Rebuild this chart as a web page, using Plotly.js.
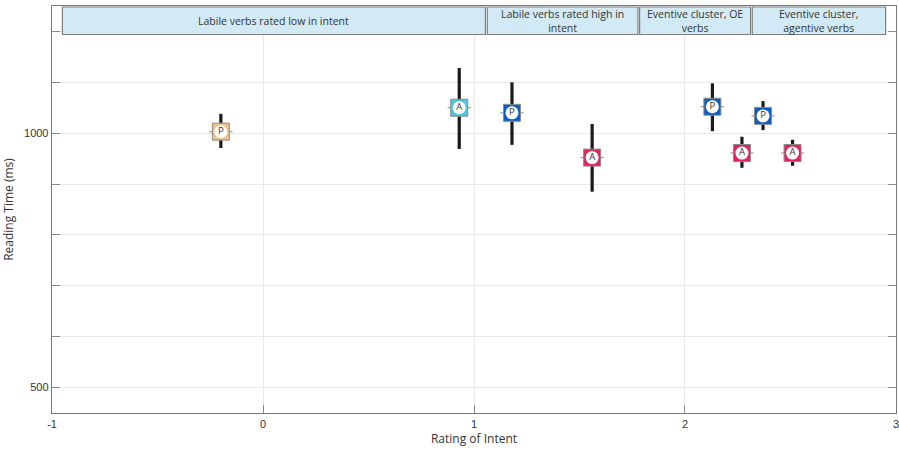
<!DOCTYPE html>
<html>
<head>
<meta charset="utf-8">
<script src="https://cdn.plot.ly/plotly-3.0.1.min.js"></script>
<style>html,body{margin:0;padding:0;background:#fff;}#chart{width:899px;height:450px;}</style>
</head>
<body>
<div id="chart"></div>
<script>
// Data
const conditions = ["Low intent P", "Low intent A", "High intent P", "High intent A", "OE P", "OE A", "Agentive P", "Agentive A"];
const letters = ["P", "A", "P", "A", "P", "A", "P", "A"];
const intentRating = [-0.20, 0.93, 1.18, 1.56, 2.13, 2.27, 2.37, 2.51];
const intentErr = [0.055, 0.055, 0.055, 0.055, 0.055, 0.055, 0.055, 0.055];
const readingTime = [1003, 1050, 1040, 952, 1052, 961, 1034, 961];
const rtUpper = [1038, 1128, 1100, 1018, 1098, 993, 1063, 987];
const rtLower = [971, 969, 977, 885, 1004, 932, 1006, 936];
const markerColors = ["#efc089", "#4ec7dc", "#0b5fc4", "#e1245e", "#0b5fc4", "#e1245e", "#0b5fc4", "#e1245e"];
const yTickVals = [500, 600, 700, 800, 900, 1000, 1100, 1200];
const yTickText = ["500", "", "", "", "", "1000", "", ""];
const xTickVals = [-1, 0, 1, 2, 3];
const xTickText = ["-1", "0", "1", "2", "3"];
const headerLabels = ["Labile verbs rated low in intent", "Labile verbs rated high in<br>intent", "Eventive cluster, OE<br>verbs", "Eventive cluster,<br>agentive verbs"];
const headerX0 = [-0.951, 1.063, 1.785, 2.319];
const headerX1 = [1.054, 1.777, 2.311, 2.951];

const errPlus = readingTime.map((v, i) => rtUpper[i] - v);
const errMinus = readingTime.map((v, i) => v - rtLower[i]);

const squares = {
  type: "scatter", mode: "markers",
  x: intentRating, y: readingTime, text: conditions, hoverinfo: "text",
  marker: {symbol: "square", size: 17, color: markerColors, line: {color: "#8a8a8a", width: 1}},
  error_y: {type: "data", symmetric: false, array: errPlus, arrayminus: errMinus, color: "#1a1a1a", thickness: 3.2, width: 0},
  error_x: {type: "data", array: intentErr, color: "#8a8a8a", thickness: 1, width: 0},
  showlegend: false
};
const circles = {
  type: "scatter", mode: "markers+text",
  x: intentRating, y: readingTime, text: letters, textposition: "middle center",
  textfont: {family: "Open Sans, sans-serif", size: 9.5, color: "#333"},
  marker: {symbol: "circle", size: 13, color: "#ffffff", line: {width: 0}},
  hoverinfo: "skip", showlegend: false
};

const shapes = headerLabels.map((t, i) => ({
  type: "rect", xref: "x", yref: "y", x0: headerX0[i], x1: headerX1[i], y0: 1194, y1: 1248,
  fillcolor: "#d2eaf5", line: {color: "#7f7f7f", width: 1.2}, layer: "above"
}));
const annotations = headerLabels.map((t, i) => ({
  xref: "x", yref: "y", x: (headerX0[i] + headerX1[i]) / 2, y: 1221, text: t, showarrow: false,
  font: {family: "Open Sans, sans-serif", size: 10.5, color: "#333"}, align: "center"
}));

const layout = {
  width: 899, height: 450,
  margin: {l: 52, r: 3, t: 5.5, b: 36.7},
  paper_bgcolor: "#fff", plot_bgcolor: "#fff",
  font: {family: "Liberation Sans, Arial, sans-serif", size: 11, color: "#333"},
  xaxis: {
    range: [-1.0003, 3.0003], tickvals: xTickVals, ticktext: xTickText,
    ticklabeloverflow: "allow",
    showgrid: true, gridcolor: "#e8e8e8", zeroline: false,
    showline: true, linecolor: "#7a7a7a", linewidth: 1.3, mirror: true,
    ticks: "inside", ticklen: 8, tickcolor: "#8a8a8a",
    tickfont: {size: 11, color: "#333"},
    title: {text: "Rating of Intent", font: {family: "Open Sans, sans-serif", size: 12, color: "#333"}, standoff: 6}
  },
  yaxis: {
    range: [450, 1250], tickvals: yTickVals, ticktext: yTickText,
    showgrid: true, gridcolor: "#e8e8e8", zeroline: false,
    showline: true, linecolor: "#7a7a7a", linewidth: 1.3, mirror: "ticks",
    ticks: "inside", ticklen: 8, tickcolor: "#8a8a8a",
    tickfont: {size: 11, color: "#333"},
    title: {text: "Reading Time (ms)", font: {family: "Open Sans, sans-serif", size: 12, color: "#333"}, standoff: 10}
  },
  shapes: shapes, annotations: annotations, showlegend: false
};

Plotly.newPlot("chart", [squares, circles], layout, {displayModeBar: false, staticPlot: true});
</script>
</body>
</html>
